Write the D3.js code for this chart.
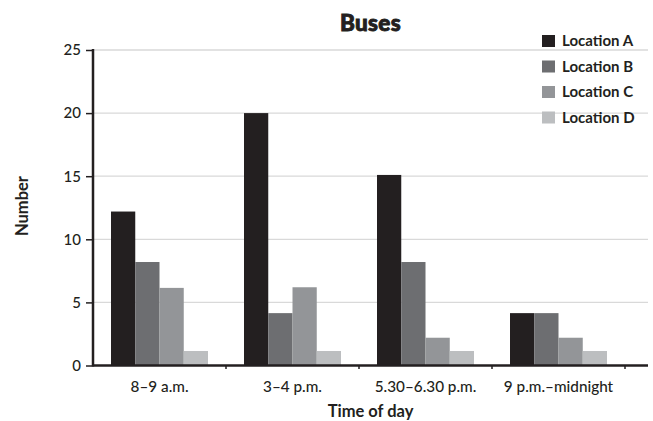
<!DOCTYPE html>
<html>
<head>
<meta charset="utf-8">
<script src="https://cdn.jsdelivr.net/npm/d3@7"></script>
<style>
  html, body { margin: 0; padding: 0; background: #fff; }
  svg { display: block; }
  text { font-family: Lato, "Open Sans", sans-serif; fill: #231f20; }
</style>
</head>
<body>
<svg id="chart" width="653" height="421"></svg>
<script>
const categories = ["8–9 a.m.", "3–4 p.m.", "5.30–6.30 p.m.", "9 p.m.–midnight"];
const seriesNames = ["Location A", "Location B", "Location C", "Location D"];
const locationA = [12.2, 20, 15.1, 4.15];
const locationB = [8.2, 4.15, 8.2, 4.15];
const locationC = [6.15, 6.2, 2.2, 2.2];
const locationD = [1.15, 1.15, 1.15, 1.15];
const yTicks = [0, 5, 10, 15, 20, 25];
const colors = ["#231f20", "#6d6e71", "#939598", "#bcbec0"];

const seriesValues = [locationA, locationB, locationC, locationD];

const svg = d3.select("#chart");
const mLeft = 93, mRight = 625, axisEnd = 648, mTop = 50, mBottom = 365.5;

const x0 = d3.scaleBand().domain(categories).range([mLeft, mRight]).padding(0);
const x1 = d3.scaleBand().domain(seriesNames).range([18, x0.bandwidth() - 18]).padding(0);
const y = d3.scaleLinear().domain([0, 25]).range([mBottom, mTop]);
const color = d3.scaleOrdinal().domain(seriesNames).range(colors);

// gridlines
svg.append("g")
  .selectAll("line")
  .data(yTicks.filter(d => d > 0))
  .join("line")
  .attr("x1", mLeft).attr("x2", axisEnd)
  .attr("y1", d => y(d)).attr("y2", d => y(d))
  .attr("stroke", "#d9d9d9").attr("stroke-width", 1.3);

// bars
const rows = categories.map((c, i) => ({
  cat: c,
  vals: seriesNames.map((s, j) => ({ s, v: seriesValues[j][i] }))
}));
svg.append("g")
  .selectAll("g")
  .data(rows)
  .join("g")
  .attr("transform", d => `translate(${x0(d.cat)},0)`)
  .selectAll("rect")
  .data(d => d.vals)
  .join("rect")
  .attr("x", d => x1(d.s))
  .attr("width", x1.bandwidth())
  .attr("y", d => y(d.v))
  .attr("height", d => y(0) - y(d.v))
  .attr("fill", d => color(d.s));

// y axis
const yAxis = d3.axisLeft(y).tickValues(yTicks).tickSize(7).tickPadding(5).tickFormat(d3.format("d"));
const gy = svg.append("g").attr("transform", `translate(${mLeft},0)`).call(yAxis);
gy.select(".domain").remove();
gy.selectAll(".tick line").attr("stroke", "#231f20").attr("stroke-width", 1.5);
gy.selectAll(".tick text").attr("font-size", 15).attr("font-family", "Lato, sans-serif").attr("fill", "#231f20").attr("font-weight", 500);
svg.append("line")
  .attr("x1", mLeft).attr("x2", mLeft)
  .attr("y1", y(25) - 1).attr("y2", y(0) + 1)
  .attr("stroke", "#231f20").attr("stroke-width", 2.5);

// x axis
const xAxis = d3.axisBottom(x0).tickSize(0).tickPadding(16);
const gx = svg.append("g").attr("transform", `translate(0,${mBottom})`).call(xAxis);
gx.select(".domain").remove();
gx.selectAll(".tick text").attr("font-size", 15.3).attr("font-family", "Lato, sans-serif").attr("fill", "#231f20").attr("font-weight", 500);
svg.append("line")
  .attr("x1", mLeft).attr("x2", axisEnd)
  .attr("y1", mBottom).attr("y2", mBottom)
  .attr("stroke", "#231f20").attr("stroke-width", 2.5);
// small boundary ticks
svg.append("g")
  .selectAll("line")
  .data(categories.slice(1).concat(["__end"]))
  .join("line")
  .attr("x1", d => d === "__end" ? mRight : x0(d))
  .attr("x2", d => d === "__end" ? mRight : x0(d))
  .attr("y1", mBottom).attr("y2", mBottom + 3.5)
  .attr("stroke", "#231f20").attr("stroke-width", 1.5);

// title
svg.append("text")
  .attr("x", (mLeft + axisEnd) / 2).attr("y", 31)
  .attr("text-anchor", "middle")
  .attr("font-family", "Lato, sans-serif")
  .attr("font-size", 22.5).attr("font-weight", 900)
  .attr("stroke", "#231f20").attr("stroke-width", 0.9)
  .attr("letter-spacing", 0.3)
  .text("Buses");

// axis titles
svg.append("text")
  .attr("x", (mLeft + axisEnd) / 2).attr("y", 417)
  .attr("text-anchor", "middle")
  .attr("font-size", 16.5).attr("font-weight", 700)
  .text("Time of day");
svg.append("text")
  .attr("transform", `translate(28,206) rotate(-90)`)
  .attr("text-anchor", "middle")
  .attr("font-size", 16.5).attr("font-weight", 700)
  .text("Number");

// legend
const legend = svg.append("g")
  .selectAll("g")
  .data(seriesNames)
  .join("g")
  .attr("transform", (d, i) => `translate(542,${35 + i * 25.5})`);
legend.append("rect")
  .attr("width", 13).attr("height", 12)
  .attr("fill", d => color(d));
legend.append("text")
  .attr("x", 20).attr("y", 11)
  .attr("font-size", 15).attr("font-weight", 700)
  .text(d => d);
</script>
</body>
</html>
